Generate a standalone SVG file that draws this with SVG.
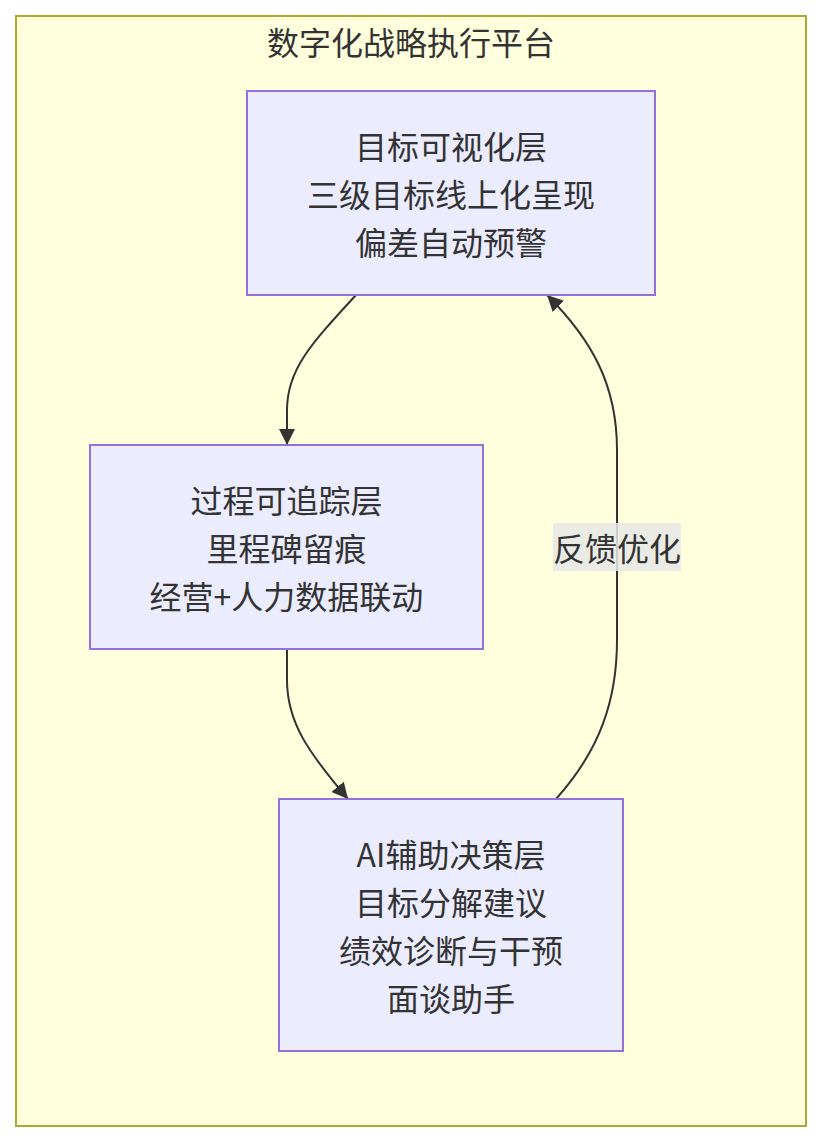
<svg xmlns="http://www.w3.org/2000/svg" width="821" height="1142" viewBox="0 0 821 1142">
<style>
.cluster{fill:#ffffde;stroke:#aaaa33;stroke-width:2}
.node rect{fill:#ececff;stroke:#9370db;stroke-width:2}
text{font-family:"Noto Sans CJK SC","Noto Sans",sans-serif;font-size:32px;fill:#333;text-anchor:middle;dominant-baseline:central}
.edge{fill:none;stroke:#333;stroke-width:2}
.lblbg{fill:#e8e8e8;opacity:0.85}
</style>
<defs>
<marker id="arrow" viewBox="0 0 10 10" refX="10" refY="5" markerUnits="userSpaceOnUse" markerWidth="16" markerHeight="16" orient="auto">
<path d="M0,0 L10,5 L0,10 z" fill="#333"/>
</marker>
</defs>
<rect class="cluster" x="16" y="16" width="790" height="1110"/>
<text x="411" y="41">数字化战略执行平台</text>
<g id="connectors">
<path class="edge" d="M356,295 C310,345 287,370 287,410 L287,445" marker-end="url(#arrow)"/>
<path class="edge" d="M287,649 L287,680 C287,722 308,752 348,799" marker-end="url(#arrow)"/>
<path class="edge" d="M556,799 C600,750 617,700 617,640 L617,450 C617,385 592,340 547,295" marker-end="url(#arrow)"/>
</g>
<g id="edge-label">
<rect class="lblbg" x="553" y="523" width="128" height="48"/>
<text x="617" y="547">反馈优化</text>
</g>
<g id="nodeA" class="node">
<rect x="247" y="91" width="408" height="204"/>
<text x="451" y="145">目标可视化层</text>
<text x="451" y="193">三级目标线上化呈现</text>
<text x="451" y="241">偏差自动预警</text>
</g>
<g id="nodeB" class="node">
<rect x="90" y="445" width="393" height="204"/>
<text x="286.5" y="499">过程可追踪层</text>
<text x="286.5" y="547">里程碑留痕</text>
<text x="286.5" y="595">经营+人力数据联动</text>
</g>
<g id="nodeC" class="node">
<rect x="279" y="799" width="344" height="252"/>
<text x="451" y="853">AI辅助决策层</text>
<text x="451" y="901">目标分解建议</text>
<text x="451" y="949">绩效诊断与干预</text>
<text x="451" y="997">面谈助手</text>
</g>
</svg>
